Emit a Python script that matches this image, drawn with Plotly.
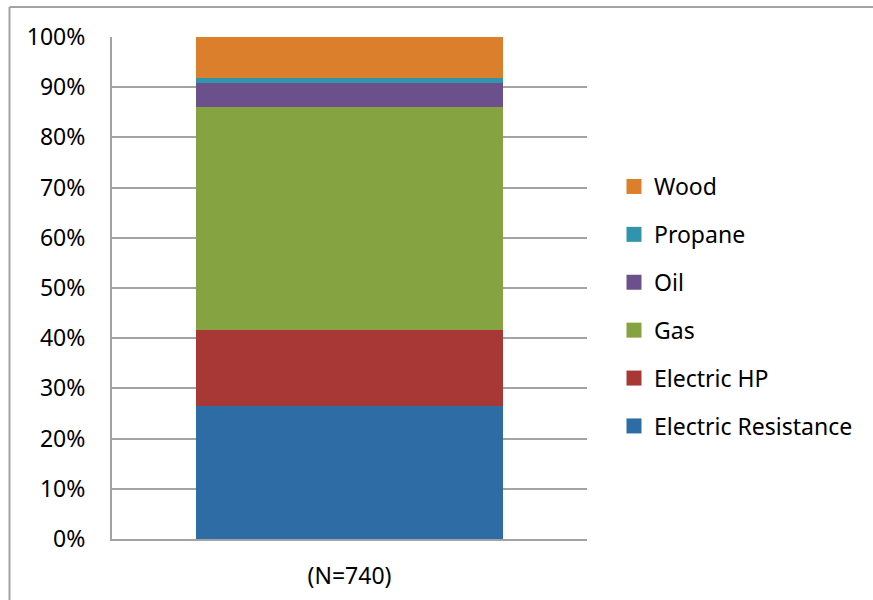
import plotly.graph_objects as go

categories = ["(N=740)"]
series_names = ["Electric Resistance", "Electric HP", "Gas", "Oil", "Propane", "Wood"]
electric_resistance = [26.4]
electric_hp = [15.2]
gas = [44.4]
oil = [4.8]
propane = [1.0]
wood = [8.2]
series_values = [electric_resistance, electric_hp, gas, oil, propane, wood]
colors = ["#2E6CA5", "#A83836", "#86A342", "#6B508B", "#3194AD", "#DB7F2D"]
y_tick_vals = [0, 10, 20, 30, 40, 50, 60, 70, 80, 90, 100]
y_tick_text = ["0%", "10%", "20%", "30%", "40%", "50%", "60%", "70%", "80%", "90%", "100%"]

FONT = "Noto Sans"
W, H = 873, 600
ML, MR, MT, MB = 112, 286, 37, 61
PW, PH = W - ML - MR, H - MT - MB

def px_x(px):
    return (px - ML) / PW

def px_y(py):
    return (H - MB - py) / PH

fig = go.Figure()
n = len(series_names)
for i, (name, vals, col) in enumerate(zip(series_names, series_values, colors)):
    fig.add_trace(go.Bar(x=categories, y=vals, name=name, marker=dict(color=col, line=dict(width=0)),
                         showlegend=False, legendgroup=name))
    fig.add_trace(go.Scatter(x=[None], y=[None], mode="markers", name=name, legendgroup=name,
                             legendrank=n - i,
                             marker=dict(symbol="square", size=15, color=col), showlegend=True))

grid = "#A3A3A3"
fig.update_layout(
    width=W, height=H,
    margin=dict(l=ML, r=MR, t=MT, b=MB, pad=0, autoexpand=False),
    barmode="stack", bargap=0.354,
    plot_bgcolor="white", paper_bgcolor="white",
    font=dict(family=FONT, size=23, color="#000000"),
    legend=dict(x=px_x(614), xanchor="left", y=px_y(306.5), yanchor="middle",
                traceorder="grouped", tracegroupgap=15,
                font=dict(family=FONT, size=23, color="#000000"),
                bgcolor="rgba(0,0,0,0)", itemwidth=30),
    xaxis=dict(showgrid=False, showline=True, linecolor=grid, linewidth=2,
               ticks="", ticklabelstandoff=15, fixedrange=True, automargin=False),
    yaxis=dict(range=[0, 100], tickvals=y_tick_vals, ticktext=y_tick_text,
               showgrid=True, gridcolor=grid, gridwidth=2,
               showline=True, linecolor=grid, linewidth=2, zeroline=False,
               ticks="", ticklabelstandoff=20, fixedrange=True, automargin=False),
    shapes=[
        dict(type="line", xref="paper", yref="paper", x0=px_x(9.5), x1=px_x(9.5),
             y0=px_y(7), y1=px_y(650), line=dict(color=grid, width=2)),
        dict(type="line", xref="paper", yref="paper", x0=px_x(9.5), x1=px_x(950),
             y0=px_y(7), y1=px_y(7), line=dict(color=grid, width=2)),
    ],
)

fig.write_html("out.html")
